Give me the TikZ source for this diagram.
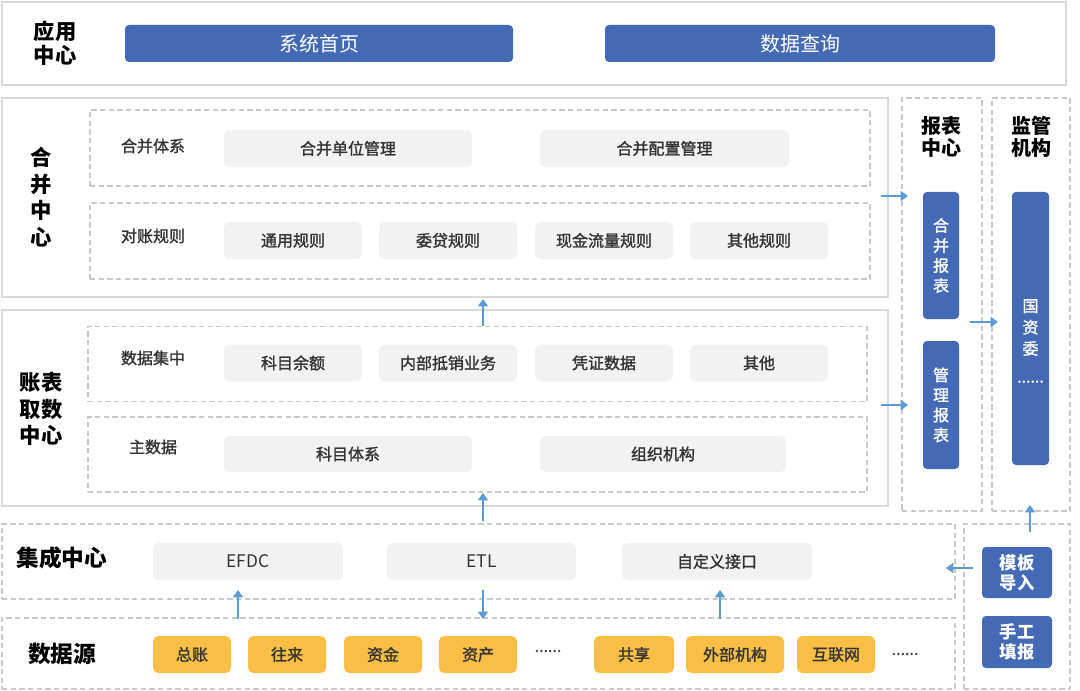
\documentclass[tikz,border=0pt]{standalone}
\usepackage{fontspec}
\setmainfont{Noto Sans CJK SC}
\newfontfamily\medfont{Noto Sans CJK SC}[FakeBold=1.5]
\usetikzlibrary{arrows.meta}

\definecolor{btnblue}{HTML}{446AB5}
\definecolor{srcorange}{HTML}{F9BE46}
\definecolor{boxgray}{HTML}{F2F2F2}
\definecolor{framegray}{HTML}{D9D9D9}
\definecolor{dashgray}{HTML}{C8C8C8}
\definecolor{flowblue}{HTML}{5B9BD5}
\definecolor{txtgray}{HTML}{333333}

\tikzset{every picture/.style={line width=0.75pt}}

\begin{document}
\begin{tikzpicture}[x=0.75pt,y=0.75pt,yscale=-1,xscale=1,
  sz/.style 2 args={minimum width=#1*0.75pt,minimum height=#2*0.75pt,inner sep=0pt},
  frame/.style={draw=framegray,line width=1pt},
  dframe/.style={draw=dashgray,dash pattern=on 4pt off 2.5pt,line width=0.8pt},
  bluebtn/.style={fill=btnblue,rounded corners=3pt,text=white,align=center},
  graybox/.style={fill=boxgray,rounded corners=4pt,text=txtgray,font=\medfont\fontsize{12}{14}\selectfont},
  srcbox/.style={fill=srcorange,rounded corners=4pt,text=txtgray,font=\medfont\fontsize{12}{14}\selectfont},
  sublabel/.style={text=txtgray,font=\medfont\fontsize{12}{14}\selectfont},
  biglabel/.style={text=black,align=center,font=\bfseries\fontsize{16}{18}\selectfont},
  flow/.style={draw=flowblue,line width=2.2pt,-{Triangle[width=7.5pt,length=5.5pt]}}
]
\useasboundingbox (0,0) rectangle (1080,691);

%Frames
\node[frame,sz={1064}{83}] (yyzxframe) at (534,43.5) {};
\node[frame,sz={886}{199}] (hbzxframe) at (445,197.5) {};
\node[frame,sz={886}{196}] (zbqsframe) at (445,408) {};
\node[dframe,sz={780}{76}] (hbtxframe) at (480,148) {};
\node[dframe,sz={780}{76}] (dzgzframe) at (480,241) {};
\node[dframe,sz={779}{75}] (sjjzframe) at (477.5,364) {};
\node[dframe,sz={779}{75}] (zsjframe) at (477.5,454.5) {};
\node[dframe,sz={80}{413}] (bbzxframe) at (942,304.5) {};
\node[dframe,sz={78}{413}] (jgjgframe) at (1031,304.5) {};
\node[dframe,sz={953}{75}] (jczxframe) at (478.5,561.5) {};
\node[dframe,sz={953}{71}] (sjyframe) at (478.5,653.5) {};
\node[dframe,sz={106}{165}] (sgframe) at (1017,606.5) {};

% Text Node
\node[biglabel,font=\bfseries\fontsize{16}{18}\selectfont] (yyzx) at (55,43) {应用\\中心};
\node[biglabel,font=\bfseries\fontsize{16}{20}\selectfont] (hbzx) at (41,197) {合\\并\\中\\心};
\node[biglabel,font=\bfseries\fontsize{16}{20}\selectfont] (zbqs) at (41,409) {账表\\取数\\中心};
\node[biglabel,font=\bfseries\fontsize{15}{16.5}\selectfont] (bbzx) at (941,137) {报表\\中心};
\node[biglabel,font=\bfseries\fontsize{15}{16.5}\selectfont] (jgjg) at (1031,137) {监管\\机构};
\node[biglabel,font=\bfseries\fontsize{17}{18}\selectfont] (jczx) at (62,558) {集成中心};
\node[biglabel,font=\bfseries\fontsize{17}{18}\selectfont] (sjy) at (62,654) {数据源};
\node[sublabel] (hbtx) at (153,146) {合并体系};
\node[sublabel] (dzgz) at (153,236) {对账规则};
\node[sublabel] (sjjz) at (153,358) {数据集中};
\node[sublabel] (zsj) at (153,447) {主数据};

%Rounded Rect
\node[bluebtn,sz={388}{37},font=\fontsize{15}{17}\selectfont] (xtsy) at (319,43.5) {系统首页};
\node[bluebtn,sz={390}{37},font=\fontsize{15}{17}\selectfont] (sjcx) at (800,43.5) {数据查询};
\node[bluebtn,sz={36}{127},font=\medfont\fontsize{12}{15}\selectfont] (hbbb) at (941,255.5) {合\\并\\报\\表};
\node[bluebtn,sz={36}{128},font=\medfont\fontsize{12}{15}\selectfont] (glbb) at (941,405) {管\\理\\报\\表};
\node[bluebtn,sz={37}{273}] (gzw) at (1030.5,328.5) {};
\node[text=white,align=center,font=\medfont\fontsize{12}{16}\selectfont] (gzwtxt) at (1030.5,341) {国\\资\\委\\[5pt]......};
\node[bluebtn,sz={70}{51},font=\bfseries\fontsize{13}{15}\selectfont] (mbdr) at (1017,572.5) {模板\\导入};
\node[bluebtn,sz={70}{52},font=\bfseries\fontsize{13}{15}\selectfont] (sgtb) at (1017,642) {手工\\填报};

%Rounded Rect
\node[graybox,sz={248}{37}] (hbdwgl) at (348,148.5) {合并单位管理};
\node[graybox,sz={249}{37}] (hbpzgl) at (664.5,148.5) {合并配置管理};
\node[graybox,sz={138}{37}] (tygz) at (293,240.5) {通用规则};
\node[graybox,sz={138}{37}] (wdgz) at (448,240.5) {委贷规则};
\node[graybox,sz={138}{37}] (xjllgz) at (604,240.5) {现金流量规则};
\node[graybox,sz={138}{37}] (qtgz) at (759,240.5) {其他规则};
\node[graybox,sz={138}{37}] (kmye) at (293,363) {科目余额};
\node[graybox,sz={138}{37}] (nbdx) at (448,363) {内部抵销业务};
\node[graybox,sz={138}{37}] (pzsj) at (604,363) {凭证数据};
\node[graybox,sz={138}{37}] (qt) at (759,363) {其他};
\node[graybox,sz={248}{36}] (kmtx) at (348,454) {科目体系};
\node[graybox,sz={246}{36}] (zzjg) at (663,454) {组织机构};
\node[graybox,sz={190}{37},font=\fontsize{13}{15}\selectfont] (efdc) at (248,561.5) {EFDC};
\node[graybox,sz={189}{37},font=\fontsize{13}{15}\selectfont] (etl) at (481.5,561.5) {ETL};
\node[graybox,sz={190}{37}] (zdyjk) at (717,561.5) {自定义接口};

%Rounded Rect
\node[srcbox,sz={78}{37}] (zz) at (192,654.5) {总账};
\node[srcbox,sz={78}{37}] (wl) at (287,654.5) {往来};
\node[srcbox,sz={78}{37}] (zj) at (383,654.5) {资金};
\node[srcbox,sz={78}{37}] (zc) at (478,654.5) {资产};
\node[sublabel] (more1) at (548,651) {......};
\node[srcbox,sz={80}{37}] (gx) at (634,654.5) {共享};
\node[srcbox,sz={98}{37}] (wbjg) at (735,654.5) {外部机构};
\node[srcbox,sz={78}{37}] (hlw) at (836,654.5) {互联网};
\node[sublabel] (more2) at (905,654) {......};

%Arrows
\coordinate (hbout) at (881,196);
\coordinate (hbin) at (908,196);
\coordinate (zbout) at (881,405);
\coordinate (zbin) at (908,405);
\coordinate (bbout) at (970,322);
\coordinate (bbin) at (998,322);
\coordinate (upone) at (483,326);
\coordinate (uponeend) at (483,299);
\coordinate (uptwo) at (483,521);
\coordinate (uptwoend) at (483,493);
\coordinate (sgup) at (1030,532);
\coordinate (sgupend) at (1030,505);
\coordinate (efdcin) at (238,619);
\coordinate (efdcend) at (238,590);
\coordinate (etlout) at (483,590);
\coordinate (etlend) at (483,619);
\coordinate (zdyin) at (720,619);
\coordinate (zdyend) at (720,590);
\coordinate (mbout) at (973,568);
\coordinate (mbend) at (946,568);
\draw[flow] (hbout) -- (hbin);
\draw[flow] (zbout) -- (zbin);
\draw[flow] (bbout) -- (bbin);
\draw[flow] (upone) -- (uponeend);
\draw[flow] (uptwo) -- (uptwoend);
\draw[flow] (sgup) -- (sgupend);
\draw[flow] (efdcin) -- (efdcend);
\draw[flow] (etlout) -- (etlend);
\draw[flow] (zdyin) -- (zdyend);
\draw[flow] (mbout) -- (mbend);

\end{tikzpicture}
\end{document}
